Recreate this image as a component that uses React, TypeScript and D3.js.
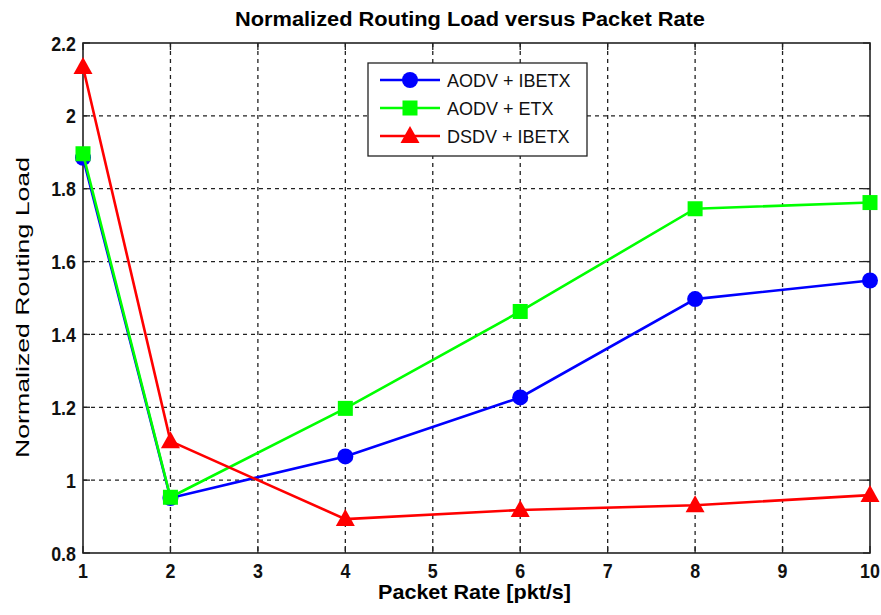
import React from "react";
import * as d3 from "d3";

const packetRates = [1, 2, 4, 6, 8, 10];
const aodvIbetx = [1.885, 0.951, 1.065, 1.227, 1.497, 1.548];
const aodvEtx = [1.896, 0.953, 1.197, 1.463, 1.745, 1.762];
const dsdvIbetx = [2.134, 1.107, 0.893, 0.918, 0.931, 0.959];
const xTicks = [1, 2, 3, 4, 5, 6, 7, 8, 9, 10];
const yTicks = [0.8, 1, 1.2, 1.4, 1.6, 1.8, 2, 2.2];
const seriesNames = ["AODV + IBETX", "AODV + ETX", "DSDV + IBETX"];
const seriesColors = ["#0000ff", "#00ff00", "#ff0000"];
const seriesShapes = ["circle", "square", "triangle"];

const W = 881;
const H = 615;
const left = 83;
const right = 870;
const top = 43;
const bottom = 553;

const FONT = "'Liberation Sans', Arial, sans-serif";

function Marker({ shape, x, y, color }: { shape: string; x: number; y: number; color: string }) {
  if (shape === "circle") return <circle cx={x} cy={y} r={8} fill={color} />;
  if (shape === "square") return <rect x={x - 7.5} y={y - 7.5} width={15} height={15} fill={color} />;
  return <path d={`M${x},${y - 10} L${x + 9.5},${y + 7} L${x - 9.5},${y + 7} Z`} fill={color} />;
}

// Condensed bold tick label
function TickLabel({ x, y, anchor, children }: { x: number; y: number; anchor: string; children: React.ReactNode }) {
  return (
    <text
      transform={`translate(${x},${y}) scale(0.85,1)`}
      textAnchor={anchor}
      fontFamily={FONT}
      fontWeight="bold"
      fontSize={21}
      fill="#111"
    >
      {children}
    </text>
  );
}

export default function App() {
  const xScale = d3.scaleLinear().domain([1, 10]).range([left, right]);
  const yScale = d3.scaleLinear().domain([0.8, 2.2]).range([bottom, top]);
  const line = d3
    .line<[number, number]>()
    .x((d) => xScale(d[0]))
    .y((d) => yScale(d[1]));
  const series = [aodvIbetx, aodvEtx, dsdvIbetx];

  return (
    <svg width={W} height={H} style={{ display: "block", position: "absolute", left: 0, top: 0, background: "#fff" }}>
      <rect width={W} height={H} fill="#fff" />
      {/* grid */}
      {xTicks.slice(1, -1).map((t) => (
        <line key={"gx" + t} x1={xScale(t)} x2={xScale(t)} y1={top} y2={bottom} stroke="#222" strokeWidth={1.3} strokeDasharray="4,4" />
      ))}
      {yTicks.slice(1, -1).map((t) => (
        <line key={"gy" + t} x1={left} x2={right} y1={yScale(t)} y2={yScale(t)} stroke="#222" strokeWidth={1.3} strokeDasharray="4,4" />
      ))}
      {/* ticks */}
      {xTicks.map((t) => (
        <g key={"tx" + t}>
          <line x1={xScale(t)} x2={xScale(t)} y1={bottom} y2={bottom - 7} stroke="#222" strokeWidth={1.3} />
          <line x1={xScale(t)} x2={xScale(t)} y1={top} y2={top + 7} stroke="#222" strokeWidth={1.3} />
          <TickLabel x={xScale(t)} y={578} anchor="middle">
            {t}
          </TickLabel>
        </g>
      ))}
      {yTicks.map((t) => (
        <g key={"ty" + t}>
          <line x1={left} x2={left + 7} y1={yScale(t)} y2={yScale(t)} stroke="#222" strokeWidth={1.3} />
          <line x1={right} x2={right - 7} y1={yScale(t)} y2={yScale(t)} stroke="#222" strokeWidth={1.3} />
          <TickLabel x={76} y={yScale(t) + 7.5} anchor="end">
            {d3.format("")(+t.toFixed(1))}
          </TickLabel>
        </g>
      ))}
      {/* frame */}
      <rect x={left} y={top} width={right - left} height={bottom - top} fill="none" stroke="#222" strokeWidth={1.6} />
      {/* series */}
      {series.map((vals, i) => {
        const pts = packetRates.map((x, j) => [x, vals[j]] as [number, number]);
        return (
          <g key={"s" + i}>
            <path d={line(pts) || ""} fill="none" stroke={seriesColors[i]} strokeWidth={2.6} />
            {pts.map((p, j) => (
              <Marker key={j} shape={seriesShapes[i]} x={xScale(p[0])} y={yScale(p[1])} color={seriesColors[i]} />
            ))}
          </g>
        );
      })}
      {/* legend */}
      <rect x={368} y={63} width={219} height={93} fill="#fff" stroke="#222" strokeWidth={1.3} />
      {seriesNames.map((name, i) => {
        const y = 80 + i * 28;
        return (
          <g key={"l" + i}>
            <line x1={380} x2={440} y1={y} y2={y} stroke={seriesColors[i]} strokeWidth={2.6} />
            <Marker shape={seriesShapes[i]} x={410} y={y} color={seriesColors[i]} />
            <text x={447} y={y + 7} fontFamily={FONT} fontSize={18} fill="#111">
              {name}
            </text>
          </g>
        );
      })}
      {/* titles */}
      <text x={235} y={26} textLength={470} lengthAdjust="spacingAndGlyphs" fontFamily={FONT} fontWeight="bold" fontSize={20} fill="#000">
        Normalized Routing Load versus Packet Rate
      </text>
      <text x={378} y={599} textLength={193} lengthAdjust="spacingAndGlyphs" fontFamily={FONT} fontWeight="bold" fontSize={21} fill="#000">
        Packet Rate [pkt/s]
      </text>
      <text
        transform={`translate(29,458) rotate(-90)`}
        textLength={301}
        lengthAdjust="spacingAndGlyphs"
        fontFamily={FONT}
        fontSize={19}
        fill="#000"
      >
        Normalized Routing Load
      </text>
    </svg>
  );
}
